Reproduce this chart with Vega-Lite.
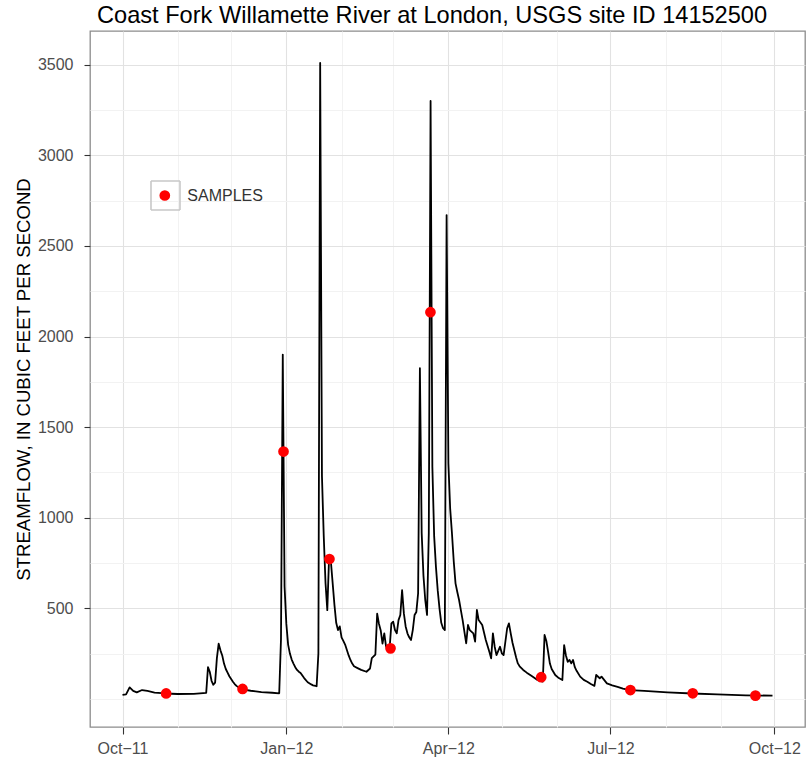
{
  "$schema": "https://vega.github.io/schema/vega-lite/v6.json",
  "width": 715,
  "height": 696,
  "autosize": {"type": "none"},
  "padding": {"left": 90, "top": 31, "right": 1, "bottom": 40},
  "background": "white",
  "title": {
    "text": "Coast Fork Willamette River at London, USGS site ID 14152500",
    "anchor": "start",
    "frame": "group",
    "font": "Liberation Sans",
    "fontSize": 23.6,
    "fontWeight": "normal",
    "color": "black",
    "offset": 3,
    "dx": 7
  },
  "config": {
    "font": "Liberation Sans",
    "view": {"stroke": "#8c8c8c", "strokeWidth": 1.3}
  },
  "datasets": {
    "flow": [
      {"date": "2011-10-01", "flow": 22},
      {"date": "2011-10-03", "flow": 25},
      {"date": "2011-10-05", "flow": 64},
      {"date": "2011-10-07", "flow": 44},
      {"date": "2011-10-09", "flow": 36},
      {"date": "2011-10-12", "flow": 49},
      {"date": "2011-10-15", "flow": 44},
      {"date": "2011-10-19", "flow": 35},
      {"date": "2011-10-25", "flow": 30},
      {"date": "2011-11-01", "flow": 27},
      {"date": "2011-11-10", "flow": 28},
      {"date": "2011-11-17", "flow": 33},
      {"date": "2011-11-18", "flow": 175},
      {"date": "2011-11-19", "flow": 150},
      {"date": "2011-11-20", "flow": 100},
      {"date": "2011-11-21", "flow": 78},
      {"date": "2011-11-22", "flow": 90},
      {"date": "2011-11-23", "flow": 225},
      {"date": "2011-11-24", "flow": 305},
      {"date": "2011-11-25", "flow": 268},
      {"date": "2011-11-26", "flow": 240},
      {"date": "2011-11-27", "flow": 195},
      {"date": "2011-11-28", "flow": 165},
      {"date": "2011-11-29", "flow": 145},
      {"date": "2011-11-30", "flow": 125},
      {"date": "2011-12-01", "flow": 110},
      {"date": "2011-12-02", "flow": 95},
      {"date": "2011-12-03", "flow": 82},
      {"date": "2011-12-04", "flow": 72},
      {"date": "2011-12-05", "flow": 65},
      {"date": "2011-12-07", "flow": 57},
      {"date": "2011-12-09", "flow": 50},
      {"date": "2011-12-12", "flow": 45},
      {"date": "2011-12-18", "flow": 38},
      {"date": "2011-12-24", "flow": 34},
      {"date": "2011-12-28", "flow": 31},
      {"date": "2011-12-29", "flow": 330},
      {"date": "2011-12-30", "flow": 1900},
      {"date": "2011-12-31", "flow": 620},
      {"date": "2012-01-01", "flow": 414},
      {"date": "2012-01-02", "flow": 300},
      {"date": "2012-01-03", "flow": 250},
      {"date": "2012-01-04", "flow": 217},
      {"date": "2012-01-05", "flow": 195},
      {"date": "2012-01-06", "flow": 175},
      {"date": "2012-01-07", "flow": 160},
      {"date": "2012-01-08", "flow": 150},
      {"date": "2012-01-09", "flow": 143},
      {"date": "2012-01-11", "flow": 115},
      {"date": "2012-01-13", "flow": 92},
      {"date": "2012-01-15", "flow": 80},
      {"date": "2012-01-16", "flow": 75},
      {"date": "2012-01-18", "flow": 70},
      {"date": "2012-01-19", "flow": 250},
      {"date": "2012-01-20", "flow": 3510},
      {"date": "2012-01-21", "flow": 1230},
      {"date": "2012-01-22", "flow": 900},
      {"date": "2012-01-23", "flow": 640},
      {"date": "2012-01-24", "flow": 490},
      {"date": "2012-01-25", "flow": 780},
      {"date": "2012-01-26", "flow": 760},
      {"date": "2012-01-27", "flow": 640},
      {"date": "2012-01-28", "flow": 520},
      {"date": "2012-01-29", "flow": 420},
      {"date": "2012-01-30", "flow": 380},
      {"date": "2012-01-31", "flow": 400},
      {"date": "2012-02-01", "flow": 340},
      {"date": "2012-02-02", "flow": 320},
      {"date": "2012-02-03", "flow": 300},
      {"date": "2012-02-04", "flow": 270},
      {"date": "2012-02-05", "flow": 240},
      {"date": "2012-02-06", "flow": 215},
      {"date": "2012-02-07", "flow": 195},
      {"date": "2012-02-08", "flow": 180},
      {"date": "2012-02-10", "flow": 170},
      {"date": "2012-02-12", "flow": 160},
      {"date": "2012-02-15", "flow": 150},
      {"date": "2012-02-17", "flow": 168},
      {"date": "2012-02-18", "flow": 225},
      {"date": "2012-02-20", "flow": 245},
      {"date": "2012-02-21", "flow": 470},
      {"date": "2012-02-22", "flow": 415},
      {"date": "2012-02-23", "flow": 378},
      {"date": "2012-02-24", "flow": 305},
      {"date": "2012-02-25", "flow": 362},
      {"date": "2012-02-26", "flow": 288},
      {"date": "2012-02-27", "flow": 290},
      {"date": "2012-02-28", "flow": 280},
      {"date": "2012-02-29", "flow": 417},
      {"date": "2012-03-01", "flow": 426},
      {"date": "2012-03-02", "flow": 380},
      {"date": "2012-03-03", "flow": 362},
      {"date": "2012-03-04", "flow": 435},
      {"date": "2012-03-05", "flow": 463},
      {"date": "2012-03-06", "flow": 600},
      {"date": "2012-03-07", "flow": 472},
      {"date": "2012-03-08", "flow": 400},
      {"date": "2012-03-09", "flow": 362},
      {"date": "2012-03-10", "flow": 340},
      {"date": "2012-03-11", "flow": 325},
      {"date": "2012-03-12", "flow": 380},
      {"date": "2012-03-13", "flow": 463},
      {"date": "2012-03-14", "flow": 480},
      {"date": "2012-03-15", "flow": 583},
      {"date": "2012-03-16", "flow": 1825},
      {"date": "2012-03-17", "flow": 915},
      {"date": "2012-03-18", "flow": 680},
      {"date": "2012-03-19", "flow": 546},
      {"date": "2012-03-20", "flow": 463},
      {"date": "2012-03-21", "flow": 915},
      {"date": "2012-03-22", "flow": 3300},
      {"date": "2012-03-23", "flow": 1281},
      {"date": "2012-03-24", "flow": 900},
      {"date": "2012-03-25", "flow": 730},
      {"date": "2012-03-26", "flow": 600},
      {"date": "2012-03-27", "flow": 500},
      {"date": "2012-03-28", "flow": 420},
      {"date": "2012-03-29", "flow": 390},
      {"date": "2012-03-30", "flow": 380},
      {"date": "2012-03-31", "flow": 2670},
      {"date": "2012-04-01", "flow": 1300},
      {"date": "2012-04-02", "flow": 1050},
      {"date": "2012-04-03", "flow": 914},
      {"date": "2012-04-04", "flow": 760},
      {"date": "2012-04-05", "flow": 638},
      {"date": "2012-04-06", "flow": 590},
      {"date": "2012-04-07", "flow": 546},
      {"date": "2012-04-08", "flow": 490},
      {"date": "2012-04-09", "flow": 435},
      {"date": "2012-04-10", "flow": 370},
      {"date": "2012-04-11", "flow": 307},
      {"date": "2012-04-12", "flow": 408},
      {"date": "2012-04-13", "flow": 380},
      {"date": "2012-04-15", "flow": 362},
      {"date": "2012-04-16", "flow": 316},
      {"date": "2012-04-17", "flow": 491},
      {"date": "2012-04-18", "flow": 435},
      {"date": "2012-04-20", "flow": 408},
      {"date": "2012-04-22", "flow": 325},
      {"date": "2012-04-24", "flow": 260},
      {"date": "2012-04-25", "flow": 224},
      {"date": "2012-04-26", "flow": 362},
      {"date": "2012-04-27", "flow": 288},
      {"date": "2012-04-28", "flow": 242},
      {"date": "2012-04-30", "flow": 288},
      {"date": "2012-05-01", "flow": 252},
      {"date": "2012-05-02", "flow": 242},
      {"date": "2012-05-04", "flow": 390},
      {"date": "2012-05-05", "flow": 417},
      {"date": "2012-05-06", "flow": 362},
      {"date": "2012-05-07", "flow": 310},
      {"date": "2012-05-08", "flow": 270},
      {"date": "2012-05-09", "flow": 230},
      {"date": "2012-05-10", "flow": 196},
      {"date": "2012-05-11", "flow": 180},
      {"date": "2012-05-13", "flow": 160},
      {"date": "2012-05-15", "flow": 145},
      {"date": "2012-05-18", "flow": 125},
      {"date": "2012-05-21", "flow": 105},
      {"date": "2012-05-23", "flow": 98},
      {"date": "2012-05-24", "flow": 96},
      {"date": "2012-05-25", "flow": 353},
      {"date": "2012-05-26", "flow": 320},
      {"date": "2012-05-27", "flow": 260},
      {"date": "2012-05-28", "flow": 195},
      {"date": "2012-05-29", "flow": 165},
      {"date": "2012-05-31", "flow": 132},
      {"date": "2012-06-02", "flow": 115},
      {"date": "2012-06-04", "flow": 104},
      {"date": "2012-06-05", "flow": 297},
      {"date": "2012-06-06", "flow": 240},
      {"date": "2012-06-07", "flow": 205},
      {"date": "2012-06-08", "flow": 215},
      {"date": "2012-06-09", "flow": 196},
      {"date": "2012-06-10", "flow": 215},
      {"date": "2012-06-11", "flow": 175},
      {"date": "2012-06-12", "flow": 155},
      {"date": "2012-06-14", "flow": 123},
      {"date": "2012-06-16", "flow": 105},
      {"date": "2012-06-18", "flow": 95},
      {"date": "2012-06-20", "flow": 82},
      {"date": "2012-06-22", "flow": 72},
      {"date": "2012-06-23", "flow": 132},
      {"date": "2012-06-25", "flow": 114},
      {"date": "2012-06-26", "flow": 123},
      {"date": "2012-06-29", "flow": 86},
      {"date": "2012-07-02", "flow": 75},
      {"date": "2012-07-05", "flow": 67},
      {"date": "2012-07-08", "flow": 57},
      {"date": "2012-07-12", "flow": 48},
      {"date": "2012-07-20", "flow": 44},
      {"date": "2012-08-02", "flow": 36},
      {"date": "2012-08-16", "flow": 30},
      {"date": "2012-08-30", "flow": 25},
      {"date": "2012-09-15", "flow": 20},
      {"date": "2012-09-30", "flow": 18}
    ],
    "samples": [
      {"date": "2011-10-25T12:00Z", "flow": 30, "series": "SAMPLES"},
      {"date": "2011-12-07T10:00Z", "flow": 55, "series": "SAMPLES"},
      {"date": "2011-12-30T10:00Z", "flow": 1365, "series": "SAMPLES"},
      {"date": "2012-01-25T05:00Z", "flow": 772, "series": "SAMPLES"},
      {"date": "2012-02-28T12:00Z", "flow": 279, "series": "SAMPLES"},
      {"date": "2012-03-21T22:00Z", "flow": 2134, "series": "SAMPLES"},
      {"date": "2012-05-23T03:00Z", "flow": 120, "series": "SAMPLES"},
      {"date": "2012-07-12T05:00Z", "flow": 49, "series": "SAMPLES"},
      {"date": "2012-08-16T05:00Z", "flow": 31, "series": "SAMPLES"},
      {"date": "2012-09-20T10:00Z", "flow": 18, "series": "SAMPLES"}
    ]
  },
  "encoding": {
    "x": {
      "field": "date",
      "type": "temporal",
      "scale": {
        "type": "utc",
        "domain": [
          {"year": 2011, "month": 9, "date": 12, "hours": 18, "utc": true},
          {"year": 2012, "month": 10, "date": 18, "hours": 6, "utc": true}
        ]
      },
      "axis": {
        "title": null,
        "values": [
          {"year": 2011, "month": 10, "date": 1, "utc": true},
          {"year": 2011, "month": 11, "date": 1, "utc": true},
          {"year": 2011, "month": 12, "date": 1, "utc": true},
          {"year": 2012, "month": 1, "date": 1, "utc": true},
          {"year": 2012, "month": 2, "date": 1, "utc": true},
          {"year": 2012, "month": 3, "date": 1, "utc": true},
          {"year": 2012, "month": 4, "date": 1, "utc": true},
          {"year": 2012, "month": 5, "date": 1, "utc": true},
          {"year": 2012, "month": 6, "date": 1, "utc": true},
          {"year": 2012, "month": 7, "date": 1, "utc": true},
          {"year": 2012, "month": 8, "date": 1, "utc": true},
          {"year": 2012, "month": 9, "date": 1, "utc": true},
          {"year": 2012, "month": 10, "date": 1, "utc": true}
        ],
        "domain": false,
        "grid": true,
        "gridColor": {"condition": {"test": "utcmonth(datum.value) % 3 == 0", "value": "#e2e2e2"}, "value": "#f2f2f2"},
        "gridWidth": 1.1,
        "ticks": true,
        "tickSize": 7,
        "tickWidth": 1.1,
        "tickColor": "#333333",
        "tickOpacity": {"condition": {"test": "utcmonth(datum.value) % 3 == 0", "value": 1}, "value": 0},
        "labelExpr": "utcmonth(datum.value) % 3 == 0 ? utcFormat(datum.value, '%b') + '\u2212' + utcFormat(datum.value, '%y') : ''",
        "labelFont": "Liberation Sans",
        "labelFontSize": 16,
        "labelColor": "#4d4d4d",
        "labelPadding": 6,
        "labelOverlap": false,
        "labelFlush": false,
        "labelBound": false
      }
    },
    "y": {
      "field": "flow",
      "type": "quantitative",
      "scale": {"domain": [-155, 3686], "nice": false, "zero": false},
      "axis": {
        "title": "STREAMFLOW, IN CUBIC FEET PER SECOND",
        "titleFont": "Liberation Sans",
        "titleFontSize": 18.6,
        "titleFontWeight": "normal",
        "titleColor": "black",
        "titleAngle": 270,
        "titleAlign": "center",
        "titleBaseline": "middle",
        "titleX": -66.5,
        "titleY": 348,
        "values": [0, 250, 500, 750, 1000, 1250, 1500, 1750, 2000, 2250, 2500, 2750, 3000, 3250, 3500],
        "format": "d",
        "domain": false,
        "grid": true,
        "gridColor": {"condition": {"test": "datum.value % 500 == 0 && datum.value > 0", "value": "#e2e2e2"}, "value": "#f2f2f2"},
        "gridWidth": 1.1,
        "tickSize": 6,
        "tickWidth": 1.1,
        "tickColor": "#333333",
        "tickOpacity": {"condition": {"test": "datum.value % 500 == 0 && datum.value > 0", "value": 1}, "value": 0},
        "labelExpr": "datum.value % 500 == 0 && datum.value > 0 ? datum.label : ''",
        "labelFont": "Liberation Sans",
        "labelFontSize": 16,
        "labelColor": "#4d4d4d",
        "labelPadding": 11,
        "labelOverlap": false,
        "labelBound": false
      }
    }
  },
  "layer": [
    {
      "data": {"name": "flow"},
      "mark": {"type": "line", "color": "black", "strokeWidth": 1.8, "strokeJoin": "round"},
      "encoding": {}
    },
    {
      "data": {"name": "samples"},
      "mark": {"type": "point", "filled": true, "size": 115, "opacity": 1},
      "encoding": {
        "color": {
          "field": "series",
          "type": "nominal",
          "scale": {"range": ["#ff0000"]},
          "legend": {
            "orient": "none",
            "legendX": 66.8,
            "legendY": 156.5,
            "title": null,
            "padding": 0,
            "symbolType": "circle",
            "symbolSize": 115,
            "symbolStrokeWidth": 0,
            "labelFont": "Liberation Sans",
            "labelFontSize": 16,
            "labelColor": "#333333",
            "labelOffset": 14.5
          }
        },
        "strokeDash": {
          "datum": "SAMPLES",
          "type": "nominal",
          "scale": {"range": [[1, 0]]},
          "legend": {
            "orient": "none",
            "legendX": 60,
            "legendY": 149,
            "title": null,
            "padding": 0,
            "symbolType": "square",
            "symbolSize": 841,
            "symbolFillColor": "transparent",
            "symbolStrokeColor": "#c8c8c8",
            "symbolStrokeWidth": 1.6,
            "symbolOpacity": 1,
            "labelExpr": "''"
          }
        }
      }
    }
  ]
}
